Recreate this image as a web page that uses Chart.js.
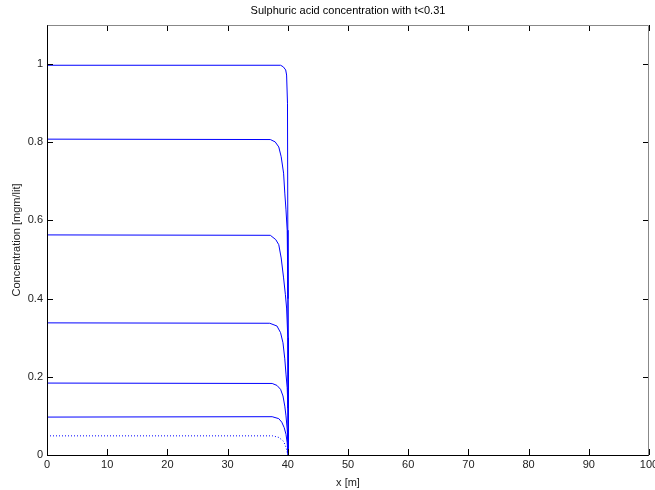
<!DOCTYPE html>
<html>
<head>
<meta charset="utf-8">
<script src="https://cdn.jsdelivr.net/npm/chart.js@4.4.1/dist/chart.umd.min.js"></script>
<style>
  body { margin: 0; background: #fff; }
  canvas { display: block; }
</style>
</head>
<body>
<canvas id="chart" width="655" height="490"></canvas>
<script>
// concentration profiles, one per time step
const x1 = [0, 38.8, 39.25, 39.65, 39.8, 39.95, 40.05, 40.1];
const y1 = [0.997, 0.997, 0.993, 0.985, 0.972, 0.9, 0.3, 0];

const x2 = [0, 37.1, 37.9, 38.5, 38.9, 39.3, 39.5, 39.7, 39.9, 40.03, 40.1];
const y2 = [0.808, 0.807, 0.801, 0.788, 0.763, 0.721, 0.67, 0.627, 0.575, 0.4, 0];

const x3 = [0, 37.1, 38.0, 38.5, 38.9, 39.3, 39.6, 39.8, 40.0, 40.1];
const y3 = [0.563, 0.562, 0.551, 0.538, 0.504, 0.453, 0.41, 0.376, 0.3, 0];

const x4 = [0, 37.0, 38.2, 38.8, 39.2, 39.5, 39.7, 39.9, 40.03, 40.1];
const y4 = [0.338, 0.337, 0.33, 0.313, 0.287, 0.246, 0.207, 0.172, 0.12, 0];

const x5 = [0, 37.4, 38.2, 38.8, 39.2, 39.5, 39.7, 39.9, 40.03, 40.1];
const y5 = [0.184, 0.183, 0.178, 0.168, 0.151, 0.125, 0.1, 0.066, 0.03, 0];

const x6 = [0, 37.4, 38.5, 39.0, 39.4, 39.7, 39.9, 40.0, 40.1];
const y6 = [0.097, 0.098, 0.093, 0.084, 0.07, 0.053, 0.031, 0.006, 0];

const x7 = [0, 37.5, 38.5, 39.3, 39.7, 40.0];
const y7 = [0.049, 0.049, 0.045, 0.035, 0.02, 0];

const xTicks = [0, 10, 20, 30, 40, 50, 60, 70, 80, 90, 100];
const yTicks = [0, 0.2, 0.4, 0.6, 0.8, 1];

const pts = (xs, ys) => xs.map((v, i) => ({ x: v, y: ys[i] }));

function line(xs, ys, dash) {
  return {
    data: pts(xs, ys),
    borderColor: '#0000ff',
    borderWidth: 1,
    borderDash: dash || [],
    pointRadius: 0,
    tension: 0,
    fill: false
  };
}

const FONT = { family: 'Liberation Sans, Arial, sans-serif', size: 11 };

// matlab style box with inward ticks on all four sides
const boxPlugin = {
  id: 'box',
  afterDraw(chart) {
    const { ctx, chartArea: a, scales } = chart;
    ctx.save();
    ctx.lineWidth = 1;
    ctx.strokeStyle = '#000';
    xTicks.forEach(v => {
      const px = Math.round(scales.x.getPixelForValue(v)) + 0.5;
      ctx.beginPath();
      ctx.moveTo(px, a.bottom); ctx.lineTo(px, a.bottom - 6);
      ctx.moveTo(px, a.top); ctx.lineTo(px, a.top + 6);
      ctx.stroke();
    });
    yTicks.forEach(v => {
      const py = Math.round(scales.y.getPixelForValue(v)) + 0.5;
      ctx.beginPath();
      ctx.moveTo(a.left, py); ctx.lineTo(a.left + 6, py);
      ctx.moveTo(a.right, py); ctx.lineTo(a.right - 6, py);
      ctx.stroke();
    });
    const l = Math.round(a.left) + 0.5, r = Math.round(a.right) - 0.5;
    const t = Math.round(a.top) + 0.5, b = Math.round(a.bottom) + 0.5;
    ctx.strokeStyle = '#888';
    ctx.beginPath();
    ctx.moveTo(l, t); ctx.lineTo(r, t); ctx.lineTo(r, b);
    ctx.stroke();
    ctx.strokeStyle = '#000';
    ctx.beginPath();
    ctx.moveTo(l, t); ctx.lineTo(l, b); ctx.lineTo(r, b);
    ctx.stroke();
    // title
    ctx.fillStyle = '#000';
    ctx.font = '11px ' + FONT.family;
    ctx.textAlign = 'center';
    ctx.textBaseline = 'middle';
    ctx.fillText('Sulphuric acid concentration with t<0.31', (a.left + a.right) / 2, 11);
    ctx.restore();
  }
};

new Chart(document.getElementById('chart'), {
  type: 'line',
  data: {
    datasets: [
      line(x1, y1), line(x2, y2), line(x3, y3), line(x4, y4),
      line(x5, y5), line(x6, y6), line(x7, y7, [1, 2])
    ]
  },
  options: {
    responsive: false,
    animation: false,
    layout: { padding: { top: 25, right: 6, left: 0, bottom: 0 } },
    plugins: {
      legend: { display: false },
      tooltip: { enabled: false }
    },
    scales: {
      x: {
        type: 'linear',
        min: 0, max: 100,
        grid: { display: false, drawTicks: false },
        border: { display: false },
        ticks: { stepSize: 10, maxRotation: 0, autoSkip: false, color: '#222', font: FONT, padding: 3 },
        title: { display: true, text: 'x [m]', color: '#222', font: FONT, padding: { top: 0, bottom: 0 } },
        afterFit: s => { s.height = 35; s.paddingLeft = 0; s.paddingRight = 0; }
      },
      y: {
        type: 'linear',
        min: 0, max: 1.1,
        grid: { display: false, drawTicks: false },
        border: { display: false },
        afterBuildTicks: s => { s.ticks = yTicks.map(v => ({ value: v })); },
        ticks: { color: '#222', font: FONT, padding: 4, callback: v => String(+v.toFixed(2)) },
        title: { display: true, text: 'Concentration [mgm/lit]', color: '#222', font: FONT, padding: { top: 10, bottom: 0 } },
        afterFit: s => { s.width = 47; s.paddingTop = 0; s.paddingBottom = 0; }
      }
    }
  },
  plugins: [boxPlugin]
});
</script>
</body>
</html>
